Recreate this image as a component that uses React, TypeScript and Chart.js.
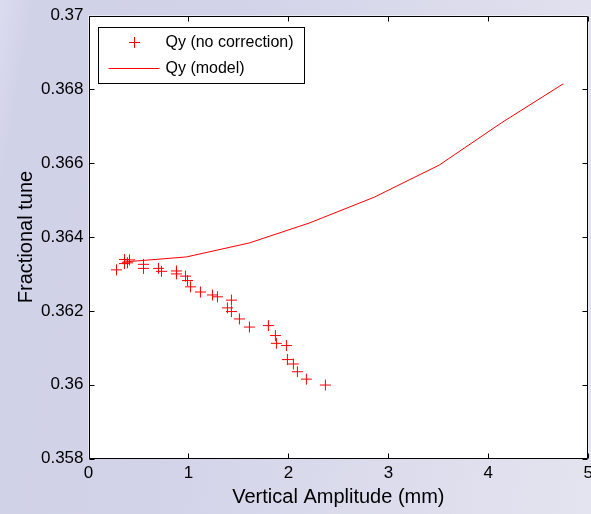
import React, { useEffect, useRef } from "react";
import { Chart, registerables } from "chart.js";

Chart.register(...registerables);

// Measured data: vertical amplitude (mm) vs fractional tune
const ampNoCorr = [0.28, 0.36, 0.41, 0.39, 0.36, 0.55, 0.55, 0.70, 0.73, 0.88, 0.88, 0.97, 0.99, 1.02, 1.12, 1.24, 1.29, 1.43, 1.39, 1.43, 1.51, 1.61, 1.80, 1.87, 1.88, 1.98, 1.99, 2.05, 2.09, 2.18, 2.37];
const qyNoCorr = [0.36311, 0.36339, 0.36338, 0.36330, 0.36328, 0.36326, 0.36315, 0.36315, 0.36307, 0.36308, 0.36300, 0.36294, 0.36282, 0.36265, 0.36251, 0.36243, 0.36238, 0.36229, 0.36208, 0.36198, 0.36178, 0.36156, 0.36160, 0.36133, 0.36112, 0.36106, 0.36068, 0.36056, 0.36035, 0.36015, 0.35999];

// Model curve
const ampModel = [0.34, 0.98, 1.61, 2.21, 2.86, 3.51, 4.13, 4.75];
const qyModel = [0.36332, 0.36346, 0.36384, 0.36438, 0.36508, 0.36595, 0.36709, 0.36815];

const seriesLabels = ["Qy (no correction)", "Qy (model)"];
const xTitle = "Vertical Amplitude (mm)";
const yTitle = "Fractional tune";

const FONT = "'Liberation Sans', Arial, Helvetica, sans-serif";

const framePlugin = {
  id: "frame",
  beforeDraw(chart: any) {
    const { ctx, chartArea } = chart;
    const { left, top, right, bottom } = chartArea;
    ctx.save();
    ctx.fillStyle = "#ffffff";
    ctx.fillRect(left, top, right - left, bottom - top);
    ctx.restore();
  },
  afterDraw(chart: any) {
    const { ctx, chartArea } = chart;
    const { left, top, right, bottom } = chartArea;
    const xs = chart.scales.x;
    const ys = chart.scales.y;
    ctx.save();
    ctx.strokeStyle = "#000";
    ctx.lineWidth = 1;
    ctx.beginPath();
    const L = Math.round(left) + 0.5, R = Math.round(right) - 0.5, T = Math.round(top) + 0.5, B = Math.round(bottom) - 0.5;
    ctx.rect(L, T, R - L, B - T);
    ctx.stroke();
    ctx.beginPath();
    const tl = 5;
    xs.ticks.forEach((t: any) => {
      const px = Math.round(xs.getPixelForValue(t.value)) + 0.5;
      ctx.moveTo(px, B); ctx.lineTo(px, B - tl);
      ctx.moveTo(px, T); ctx.lineTo(px, T + tl);
    });
    ys.ticks.forEach((t: any) => {
      const py = Math.round(ys.getPixelForValue(t.value)) + 0.5;
      ctx.moveTo(L, py); ctx.lineTo(L + tl, py);
      ctx.moveTo(R, py); ctx.lineTo(R - tl, py);
    });
    ctx.stroke();

    // Legend box
    const bx = Math.round(left + 9) + 0.5;
    const by = Math.round(top + 11) + 0.5;
    const bw = 206, bh = 56;
    ctx.fillStyle = "#fff";
    ctx.fillRect(bx, by, bw, bh);
    ctx.strokeStyle = "#000";
    ctx.strokeRect(bx, by, bw, bh);
    const ds = chart.data.datasets;
    const row1 = by + 15;
    const row2 = by + 41;
    ctx.strokeStyle = ds[0].borderColor;
    ctx.lineWidth = 1;
    ctx.beginPath();
    const mx = bx + 36, r = 5.5;
    ctx.moveTo(mx - r, row1); ctx.lineTo(mx + r, row1);
    ctx.moveTo(mx, row1 - r); ctx.lineTo(mx, row1 + r);
    ctx.stroke();
    ctx.strokeStyle = ds[1].borderColor;
    ctx.beginPath();
    ctx.moveTo(bx + 10, row2); ctx.lineTo(bx + 61, row2);
    ctx.stroke();
    ctx.fillStyle = "#000";
    ctx.font = `16px ${FONT}`;
    ctx.textBaseline = "middle";
    ctx.textAlign = "left";
    ctx.fillText(ds[0].label, bx + 67, row1);
    ctx.fillText(ds[1].label, bx + 67, row2);
    ctx.restore();
  },
};

export default function App() {
  const ref = useRef<HTMLCanvasElement | null>(null);
  useEffect(() => {
    if (!ref.current) return;
    const chart = new Chart(ref.current, {
      type: "scatter",
      data: {
        datasets: [
          {
            label: seriesLabels[0],
            data: ampNoCorr.map((x, i) => ({ x, y: qyNoCorr[i] })),
            pointStyle: "cross",
            pointRadius: 5.5,
            pointBorderWidth: 1,
            borderColor: "#ff0000",
            backgroundColor: "#ff0000",
            showLine: false,
          },
          {
            label: seriesLabels[1],
            data: ampModel.map((x, i) => ({ x, y: qyModel[i] })),
            showLine: true,
            pointRadius: 0,
            borderColor: "#ff0000",
            borderWidth: 1,
            tension: 0,
          },
        ],
      },
      options: {
        animation: false,
        responsive: true,
        maintainAspectRatio: false,
        layout: { padding: { top: 15.5, right: 1, left: 0, bottom: 0 } },
        plugins: { legend: { display: false }, tooltip: { enabled: false } },
        scales: {
          x: {
            type: "linear",
            min: 0,
            max: 5,
            grid: { display: false, drawTicks: false },
            border: { display: false },
            ticks: { stepSize: 1, color: "#000", font: { size: 17, family: FONT }, padding: 5, maxRotation: 0 },
            title: { display: true, text: xTitle, color: "#000", font: { size: 20, family: FONT }, padding: { top: 0, bottom: 5 } },
            afterFit(scale: any) {
              scale.height = 55.5;
            },
          },
          y: {
            type: "linear",
            min: 0.358,
            max: 0.37,
            grid: { display: false, drawTicks: false },
            border: { display: false },
            ticks: {
              stepSize: 0.002,
              color: "#000",
              font: { size: 17, family: FONT },
              padding: 5,
              callback: (v: any) => parseFloat(Number(v).toFixed(3)).toString(),
            },
            title: { display: true, text: yTitle, color: "#000", font: { size: 20, family: FONT }, padding: { top: 14, bottom: 0 } },
            afterFit(scale: any) {
              scale.width = 88.5;
            },
          },
        },
      },
      plugins: [framePlugin],
    });
    return () => chart.destroy();
  }, []);
  return (
    <div
      style={{
        position: "fixed",
        left: 0,
        top: 0,
        width: 591,
        height: 514,
        overflow: "hidden",
        background:
          "linear-gradient(100deg, #dcdcf0 0%, #d0d2e8 5%, #d2d3e9 35%, #d9daeb 60%, #e0e0ee 85%, #e4e4f0 100%)",
      }}
    >
      <div style={{ position: "absolute", left: 0, top: 0, width: 598, height: 514 }}>
        <canvas ref={ref} />
      </div>
    </div>
  );
}
